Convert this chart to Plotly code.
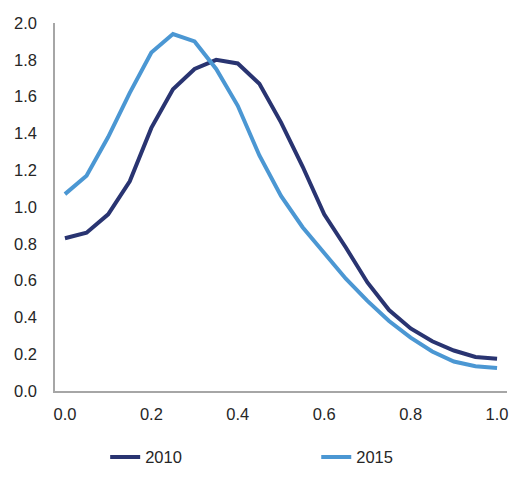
import plotly.graph_objects as go

# Data
x_vals = [0.0, 0.05, 0.1, 0.15, 0.2, 0.25, 0.3, 0.35, 0.4, 0.45, 0.5,
          0.55, 0.6, 0.65, 0.7, 0.75, 0.8, 0.85, 0.9, 0.95, 1.0]
y_2010 = [0.83, 0.86, 0.96, 1.14, 1.43, 1.64, 1.75, 1.80, 1.78, 1.67, 1.46,
          1.22, 0.96, 0.78, 0.59, 0.44, 0.34, 0.27, 0.22, 0.185, 0.175]
y_2015 = [1.07, 1.17, 1.38, 1.62, 1.84, 1.94, 1.90, 1.75, 1.55, 1.28, 1.06,
          0.89, 0.75, 0.61, 0.49, 0.38, 0.29, 0.215, 0.16, 0.135, 0.125]

# Styling constants
FONT = "Liberation Sans, Arial, sans-serif"
COLOR_2010 = "#293471"
COLOR_2015 = "#4b97d3"
AXIS_COLOR = "#a6a6a6"

fig = go.Figure()
fig.add_trace(go.Scatter(x=x_vals, y=y_2010, mode="lines", name="2010",
                         line=dict(color=COLOR_2010, width=4),
                         legend="legend", showlegend=True))
fig.add_trace(go.Scatter(x=x_vals, y=y_2015, mode="lines", name="2015",
                         line=dict(color=COLOR_2015, width=4),
                         legend="legend2", showlegend=True))

# one legend per series, so the two entries can sit far apart without wrapping
legend_style = dict(orientation="h", xanchor="left", y=-0.18, yanchor="middle",
                    font=dict(size=16.5), bgcolor="rgba(0,0,0,0)")

fig.update_layout(
    width=510,
    height=491,
    margin=dict(l=55, r=3, t=23, b=100),
    plot_bgcolor="white",
    paper_bgcolor="white",
    showlegend=True,
    font=dict(family=FONT, size=16.5, color="#262626"),
    legend=dict(x=0.111, **legend_style),
    legend2=dict(x=0.578, **legend_style),
)
fig.update_xaxes(
    range=[-0.023, 1.023],
    tickvals=[0, 0.2, 0.4, 0.6, 0.8, 1.0],
    tickformat=".1f",
    showgrid=False,
    zeroline=False,
    showline=True,
    linecolor=AXIS_COLOR,
    linewidth=1.5,
    ticks="",
    ticklabelstandoff=7,
    automargin=False,
)
fig.update_yaxes(
    range=[0, 2],
    tickvals=[0, 0.2, 0.4, 0.6, 0.8, 1.0, 1.2, 1.4, 1.6, 1.8, 2.0],
    tickformat=".1f",
    showgrid=False,
    zeroline=False,
    showline=True,
    linecolor=AXIS_COLOR,
    linewidth=1.5,
    ticks="",
    ticklabelstandoff=13,
    automargin=False,
)

# drop the browser's default body margin so the figure sits at the page corner
fig.write_html("out.html", config={"displayModeBar": False},
               post_script="document.body.style.margin = '0';")
